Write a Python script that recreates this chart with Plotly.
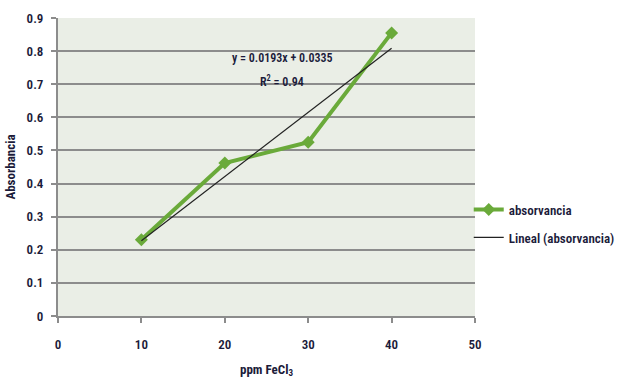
import numpy as np
import plotly.graph_objects as go

ppm = [10, 20, 30, 40]
absorvancia = [0.23, 0.462, 0.525, 0.855]
x_ticks = [0, 10, 20, 30, 40, 50]
y_ticks = [0, 0.1, 0.2, 0.3, 0.4, 0.5, 0.6, 0.7, 0.8, 0.9]
y_tick_labels = ["0", "0.1", "0.2", "0.3", "0.4", "0.5", "0.6", "0.7", "0.8", "0.9"]
eq_text = "y = 0.0193x + 0.0335"
r2_text = "R<sup>2</sup> = 0.94"

slope, intercept = np.polyfit(ppm, absorvancia, 1)
trend_x = [min(ppm), max(ppm)]
trend_y = [slope * v + intercept for v in trend_x]

FONT = "Liberation Sans Narrow, Roboto Condensed, Arial Narrow, Liberation Sans, sans-serif"
TXT = "#1b1b3a"

fig = go.Figure()
fig.add_trace(go.Scatter(
    x=ppm, y=absorvancia, mode="lines+markers", name="absorvancia",
    line=dict(color="#6aaa3a", width=4),
    marker=dict(symbol="diamond", size=10, color="#6aaa3a"),
    legendgroup="a",
))
fig.add_trace(go.Scatter(
    x=trend_x, y=trend_y, mode="lines", name="Lineal (absorvancia)",
    line=dict(color="#222222", width=1.2),
    legendgroup="b",
))

fig.add_annotation(x=26.9, y=0.78, text=eq_text, showarrow=False,
                   font=dict(family=FONT, size=12, color=TXT, weight=600), xref="x", yref="y")
fig.add_annotation(x=26.9, y=0.71, text=r2_text, showarrow=False,
                   font=dict(family=FONT, size=12, color=TXT, weight=600), xref="x", yref="y")

fig.update_layout(
    width=625, height=383,
    margin=dict(l=58, r=150, t=18, b=67, autoexpand=False),
    paper_bgcolor="white",
    plot_bgcolor="#eaeee6",
    font=dict(family=FONT, size=12, color=TXT),
    legend=dict(x=0.985, xanchor="left", y=0.31, yanchor="middle",
                tracegroupgap=8, font=dict(family=FONT, size=13, color=TXT, weight=600),
                bgcolor="rgba(0,0,0,0)", itemwidth=30),
    xaxis=dict(
        range=[0, 50], tickvals=x_ticks, showgrid=False, zeroline=False,
        showline=True, linecolor="#8c8c8c", linewidth=2,
        ticks="outside", ticklen=5, tickcolor="#8c8c8c", tickwidth=2,
        ticklabelstandoff=10,
        tickfont=dict(family=FONT, size=13, color=TXT, weight=600),
        title=dict(text="<b>ppm FeCl<sub>3</sub></b>", font=dict(family=FONT, size=13, color=TXT), standoff=14),
    ),
    yaxis=dict(
        range=[0, 0.9], tickvals=y_ticks, ticktext=y_tick_labels,
        showgrid=True, gridcolor="#8c8c8c", gridwidth=2, zeroline=False,
        showline=True, linecolor="#8c8c8c", linewidth=2,
        ticks="outside", ticklen=5, tickcolor="#8c8c8c", tickwidth=2,
        ticklabelstandoff=5,
        tickfont=dict(family=FONT, size=13, color=TXT, weight=600),
        title=dict(text="<b>Absorbancia</b>", font=dict(family=FONT, size=13, color=TXT), standoff=8),
    ),
)

fig.write_html("out.html")
